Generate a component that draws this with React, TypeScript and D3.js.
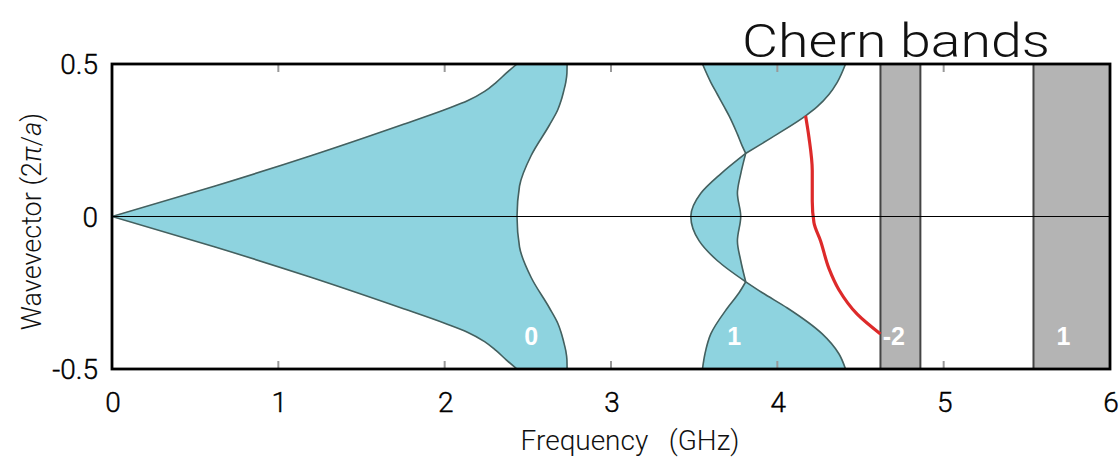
import React from 'react';
import * as d3 from 'd3';

// Band edges, read top (k = 0.5) to bottom (k = -0.5). lo/hi are frequencies in GHz.
interface Edge { k: number; lo: number; hi: number; }

const band0Upper: Edge[] = [
    { k: 0.5, lo: 2.435, hi: 2.736 },
    { k: 0.47, lo: 2.37, hi: 2.735 },
    { k: 0.44, lo: 2.31, hi: 2.728 },
    { k: 0.41, lo: 2.24, hi: 2.715 },
    { k: 0.38, lo: 2.14, hi: 2.7 },
    { k: 0.35, lo: 2.0, hi: 2.68 },
    { k: 0.3, lo: 1.74, hi: 2.63 },
    { k: 0.2, lo: 1.2, hi: 2.52 },
    { k: 0.1, lo: 0.62, hi: 2.45 },
    { k: 0, lo: 0, hi: 2.435 },
];

const band0Lower: Edge[] = [
    { k: 0, lo: 0, hi: 2.435 },
    { k: -0.1, lo: 0.62, hi: 2.45 },
    { k: -0.2, lo: 1.2, hi: 2.52 },
    { k: -0.3, lo: 1.74, hi: 2.63 },
    { k: -0.35, lo: 2.0, hi: 2.68 },
    { k: -0.38, lo: 2.14, hi: 2.7 },
    { k: -0.41, lo: 2.24, hi: 2.715 },
    { k: -0.44, lo: 2.31, hi: 2.728 },
    { k: -0.47, lo: 2.37, hi: 2.735 },
    { k: -0.5, lo: 2.435, hi: 2.736 },
];

const band1Upper: Edge[] = [
    { k: 0.5, lo: 3.55, hi: 4.41 },
    { k: 0.44, lo: 3.6, hi: 4.36 },
    { k: 0.4, lo: 3.64, hi: 4.31 },
    { k: 0.36, lo: 3.68, hi: 4.24 },
    { k: 0.33, lo: 3.71, hi: 4.17 },
    { k: 0.27, lo: 3.76, hi: 4.0 },
    { k: 0.23, lo: 3.79, hi: 3.88 },
    { k: 0.207, lo: 3.81, hi: 3.81 },
];

const band1Middle: Edge[] = [
    { k: 0.207, lo: 3.81, hi: 3.81 },
    { k: 0.14, lo: 3.66, hi: 3.78 },
    { k: 0.076, lo: 3.54, hi: 3.76 },
    { k: 0, lo: 3.48, hi: 3.78 },
    { k: -0.08, lo: 3.53, hi: 3.76 },
    { k: -0.145, lo: 3.64, hi: 3.78 },
    { k: -0.214, lo: 3.81, hi: 3.81 },
];

const band1Lower: Edge[] = [
    { k: -0.214, lo: 3.81, hi: 3.81 },
    { k: -0.25, lo: 3.77, hi: 3.91 },
    { k: -0.3, lo: 3.7, hi: 4.06 },
    { k: -0.385, lo: 3.6, hi: 4.27 },
    { k: -0.45, lo: 3.565, hi: 4.37 },
    { k: -0.5, lo: 3.55, hi: 4.41 },
];

// Red edge mode: [frequency, wavevector]
const edgeMode: [number, number][] = [
    [4.17, 0.33], [4.19, 0.26], [4.21, 0.15], [4.21, 0.05], [4.22, -0.02],
    [4.26, -0.08], [4.31, -0.17], [4.37, -0.24], [4.48, -0.32], [4.62, -0.385],
];

// Gray Chern bands [start, end] in GHz
const grayBands: [number, number][] = [[4.62, 4.86], [5.54, 6.0]];

const chernLabels = ['0', '1', '-2', '1'];
const chernLabelFreq = [2.52, 3.74, 4.7, 5.72];

const xTicks = [0, 1, 2, 3, 4, 5, 6];
const yTicks = [0.5, 0, -0.5];
const yTickLabels = ['0.5', '0', '-0.5'];

const App: React.FC = () => {
    const width = 1119;
    const height = 457;

    const x = d3.scaleLinear().domain([0, 6]).range([112, 1110]);
    const y = d3.scaleLinear().domain([-0.5, 0.5]).range([369, 64]);

    const area = d3.area<Edge>()
        .y(d => y(d.k))
        .x0(d => x(d.lo))
        .x1(d => x(d.hi))
        .curve(d3.curveMonotoneY);

    const loLine = d3.line<Edge>().x(d => x(d.lo)).y(d => y(d.k)).curve(d3.curveMonotoneY);
    const hiLine = d3.line<Edge>().x(d => x(d.hi)).y(d => y(d.k)).curve(d3.curveMonotoneY);

    const redLine = d3.line<[number, number]>()
        .x(d => x(d[0]))
        .y(d => y(d[1]))
        .curve(d3.curveMonotoneY);

    const blueBands = [band0Upper, band0Lower, band1Upper, band1Middle, band1Lower];
    // the right edge of band 0 is smooth through k = 0, so stroke it in one piece
    const band0Hi = band0Upper.concat(band0Lower.slice(1));
    const edgeStrokes = [
        loLine(band0Upper), loLine(band0Lower), hiLine(band0Hi),
        loLine(band1Upper), hiLine(band1Upper),
        loLine(band1Middle), hiLine(band1Middle),
        loLine(band1Lower), hiLine(band1Lower),
    ];

    const font = 'Helvetica, Arial, "Liberation Sans", sans-serif';
    const lightFont = 'Roboto, Helvetica, Arial, sans-serif';

    return (
        <svg width={width} height={height} style={{ position: 'absolute', left: 0, top: 0, background: '#fff' }}>
            <defs>
                <clipPath id="plot">
                    <rect x={x(0)} y={y(0.5)} width={x(6) - x(0)} height={y(-0.5) - y(0.5)} />
                </clipPath>
            </defs>

            <g clipPath="url(#plot)">
                {blueBands.map((b, i) => (
                    <path key={'f' + i} d={area(b) ?? ''} fill="#8ed3df" stroke="#8ed3df" strokeWidth={0.5} />
                ))}
                {edgeStrokes.map((d, i) => (
                    <path key={'s' + i} d={d ?? ''} fill="none" stroke="#44605f" strokeWidth={1.6} />
                ))}

                {grayBands.map((g, i) => (
                    <rect key={i} x={x(g[0])} y={y(0.5)} width={x(g[1]) - x(g[0])} height={y(-0.5) - y(0.5)}
                        fill="#b4b4b4" stroke="#444" strokeWidth={2} />
                ))}

                <path d={redLine(edgeMode) ?? ''} fill="none" stroke="#dd2a2a" strokeWidth={3.2} />

                <line x1={x(0)} x2={x(6)} y1={y(0)} y2={y(0)} stroke="#000" strokeWidth={1.2} />

                {xTicks.slice(1, -1).map(t => (
                    <g key={t}>
                        <line x1={x(t)} x2={x(t)} y1={y(0.5)} y2={y(0.5) + 8} stroke="#999" strokeWidth={2} />
                        <line x1={x(t)} x2={x(t)} y1={y(-0.5)} y2={y(-0.5) - 8} stroke="#999" strokeWidth={2} />
                    </g>
                ))}
            </g>

            {chernLabels.map((l, i) => (
                <text key={i} x={x(chernLabelFreq[i])} y={345} textAnchor="middle" fill="#fff"
                    fontFamily={font} fontWeight="bold" fontSize={25}>{l}</text>
            ))}

            <rect x={x(0)} y={y(0.5)} width={x(6) - x(0)} height={y(-0.5) - y(0.5)}
                fill="none" stroke="#000" strokeWidth={2.8} />

            {xTicks.map(t => (
                <text key={t} x={x(t) + 1} y={412} textAnchor="middle" fontFamily={lightFont} fontWeight={300}
                    fontSize={28} fill="#000" stroke="#000" strokeWidth={0.4}>{t}</text>
            ))}
            {yTicks.map((t, i) => (
                <text key={t} x={98} y={y(t) + 10} textAnchor="end" fontFamily={lightFont} fontWeight={300}
                    fontSize={28} fill="#000" stroke="#000" strokeWidth={0.4}>{yTickLabels[i]}</text>
            ))}

            <text x={630} y={450} textAnchor="middle" fontFamily={lightFont} fontWeight={300} fontSize={28}
                fill="#111" xmlSpace="preserve">
                Frequency   (GHz)
            </text>
            <text transform={`translate(41,${y(0) + 5}) rotate(-90)`} textAnchor="middle" fontFamily={lightFont}
                fontWeight={300} fontSize={27} fill="#111">
                Wavevector (2<tspan fontStyle="italic">π</tspan>/<tspan fontStyle="italic">a</tspan>)
            </text>

            <text x={742} y={57} fontFamily={lightFont} fontWeight={300} fontSize={46} fill="#111"
                textLength={308} lengthAdjust="spacingAndGlyphs">Chern bands</text>
        </svg>
    );
};

export default App;
